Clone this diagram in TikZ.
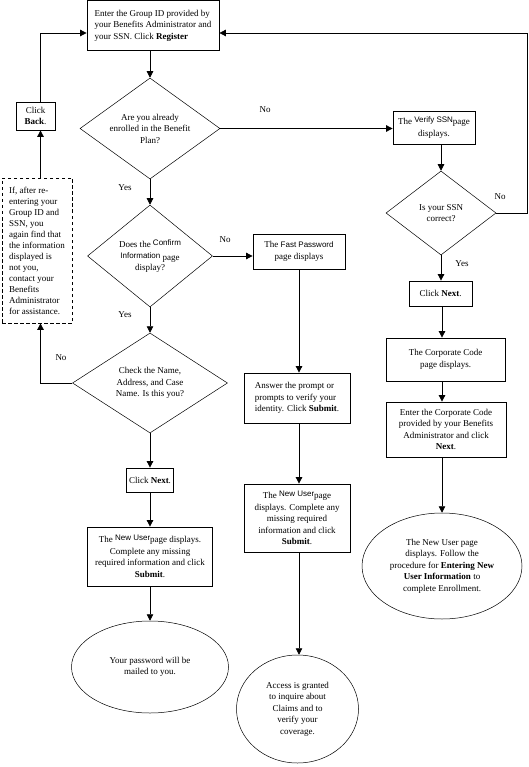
\documentclass[tikz,border=0pt]{standalone}
\usepackage{fontspec}
\setmainfont{Liberation Serif}
\newfontfamily\arialf{Liberation Sans}
\usetikzlibrary{shapes.geometric,arrows.meta}
\newcommand{\sfw}[1]{\raisebox{2pt}{\arialf\fontsize{8}{9}\selectfont #1}}
\newcommand{\sfn}[1]{{\arialf\fontsize{8}{9}\selectfont #1}}
\begin{document}
\begin{tikzpicture}[x=1pt,y=-1pt,
  font=\fontsize{9}{11.5}\selectfont,
  box/.style={draw, line width=0.8pt, inner sep=0pt, align=center},
  dia/.style={diamond, draw, line width=0.5pt, inner sep=-4pt, align=center},
  ell/.style={ellipse, draw, line width=0.5pt, inner sep=-10pt, align=center},
  conn/.style={line width=0.8pt, -{Triangle[length=6.5pt,width=6.5pt]}},
  lbl/.style={inner sep=0pt}]
\useasboundingbox (0,0) rectangle (528,767);

% nodes
\node[box, align=left, minimum width=132pt, minimum height=50pt] (top) at (153,25.5)
  {Enter the Group ID provided by\\ your Benefits Administrator and\\ your SSN.  Click \textbf{Register}};
\node[dia, minimum width=140pt, minimum height=101pt] (d1) at (150,128.5)
  {Are you already\\ enrolled in the Benefit\\ Plan?};
\node[box, minimum width=82pt, minimum height=33pt] (verify) at (434,127.5)
  {The \sfw{Verify SSN}page\\ displays.};
\node[dia, minimum width=110pt, minimum height=84pt] (d4) at (441,213)
  {Is your SSN\\ correct?};
\node[box, minimum width=63pt, minimum height=25pt] (next2) at (440.5,293.5)
  {Click \textbf{Next}.};
\node[box, minimum width=119pt, minimum height=43pt] (corp) at (445.5,359.5)
  {The Corporate Code\\ page displays.};
\node[box, minimum width=120pt, minimum height=55pt] (entercorp) at (446,429.5)
  {Enter the Corporate Code\\ provided by your Benefits\\ Administrator and click\\ \textbf{Next}.};
\node[ell, minimum width=160pt, minimum height=106pt] (ell3) at (442,566)
  {The New User page\\ displays.  Follow the\\ procedure for \textbf{Entering New}\\ \textbf{User Information} to\\ complete Enrollment.};

\node[dia, minimum width=125pt, minimum height=102pt] (d2) at (150,256)
  {Does the \sfw{Confirm}\\ \sfn{Information} \raisebox{-2pt}{page}\\ display?};
\node[box, minimum width=92pt, minimum height=35pt] (fast) at (299,251.5)
  {The \sfn{Fast Password}\\ page displays};
\node[dia, minimum width=155pt, minimum height=100pt] (d3) at (150,383)
  {Check the Name,\\ Address, and Case\\ Name.  Is this you?};

\node[box, dashed, dash pattern=on 3.5pt off 2.5pt, align=left, minimum width=70pt, minimum height=145pt,
  font=\fontsize{9}{11}\selectfont] (note) at (37,250.5)
  {If, after re-\\ entering your\\ Group ID and\\ SSN, you\\ again find that\\ the information\\ displayed is\\ not you,\\ contact your\\ Benefits\\ Administrator\\ for assistance.};
\node[box, minimum width=39pt, minimum height=28pt] (back) at (35.5,116)
  {Click\\ \textbf{Back}.};

\node[box, minimum width=47pt, minimum height=24pt] (next1) at (150,480)
  {Click \textbf{Next}.};
\node[box, minimum width=125pt, minimum height=59pt] (nu1) at (150,556.5)
  {The \sfw{New User}page displays.\\ Complete any missing\\ required information and click\\ \textbf{Submit}.};
\node[ell, minimum width=157pt, minimum height=92pt] (ell1) at (150,667)
  {Your password will be\\ mailed to you.};

\node[box, align=left, minimum width=106pt, minimum height=50pt] (answer) at (297,398)
  {Answer the prompt or\\ prompts to verify your\\ identity.  Click \textbf{Submit}.};
\node[box, minimum width=106pt, minimum height=68pt] (nu2) at (297,518)
  {The \sfw{New User}page\\ displays.  Complete any\\ missing required\\ information and click\\ \textbf{Submit}.};
\node[ell, minimum width=122pt, minimum height=108pt] (ell2) at (297.5,709)
  {Access is granted\\ to inquire about\\ Claims and to\\ verify your\\ coverage.};

% labels
\node[lbl] at (265,110) {No};
\node[lbl] at (500,197) {No};
\node[lbl] at (462,264) {Yes};
\node[lbl] at (125,188) {Yes};
\node[lbl] at (225,240) {No};
\node[lbl] at (125,315) {Yes};
\node[lbl] at (61,358) {No};

% helper coordinates
\coordinate (rc) at (527,33);
\coordinate (lc) at (40.5,33);

% connectors
\draw[conn] (top.south -| d1.north) -- (d1.north);
\draw[conn] (d1.east) -- (verify.west |- d1.east);
\draw[conn] (d4.north |- verify.south) -- (d4.north);
\draw[conn] (d4.east) -| (rc) -- (top.east |- rc);
\draw[conn] (d4.south) -- (d4.south |- next2.north);
\draw[conn] (next2.south -| ell3.north) -- (ell3.north |- corp.north);
\draw[conn] (corp.south -| ell3.north) -- (ell3.north |- entercorp.north);
\draw[conn] (entercorp.south -| ell3.north) -- (ell3.north);

\draw[conn] (d1.south) -- (d2.north);
\draw[conn] (d2.east) -- (fast.west |- d2.east);
\draw[conn] (d2.south) -- (d3.north);
\draw[conn] (d3.west) -| (lc |- note.south);
\draw[conn] (lc |- note.north) -- (lc |- back.south);
\draw[conn] (lc |- back.north) -- (lc) -- (top.west |- lc);

\draw[conn] (d3.south) -- (d3.south |- next1.north);
\draw[conn] (next1.south) -- (next1.south |- nu1.north);
\draw[conn] (nu1.south) -- (nu1.south |- ell1.north);

\draw[conn] (fast.south) -- (fast.south |- answer.north);
\draw[conn] (answer.south -| fast.south) -- (fast.south |- nu2.north);
\draw[conn] (nu2.south -| fast.south) -- (fast.south |- ell2.north);
\end{tikzpicture}
\end{document}
